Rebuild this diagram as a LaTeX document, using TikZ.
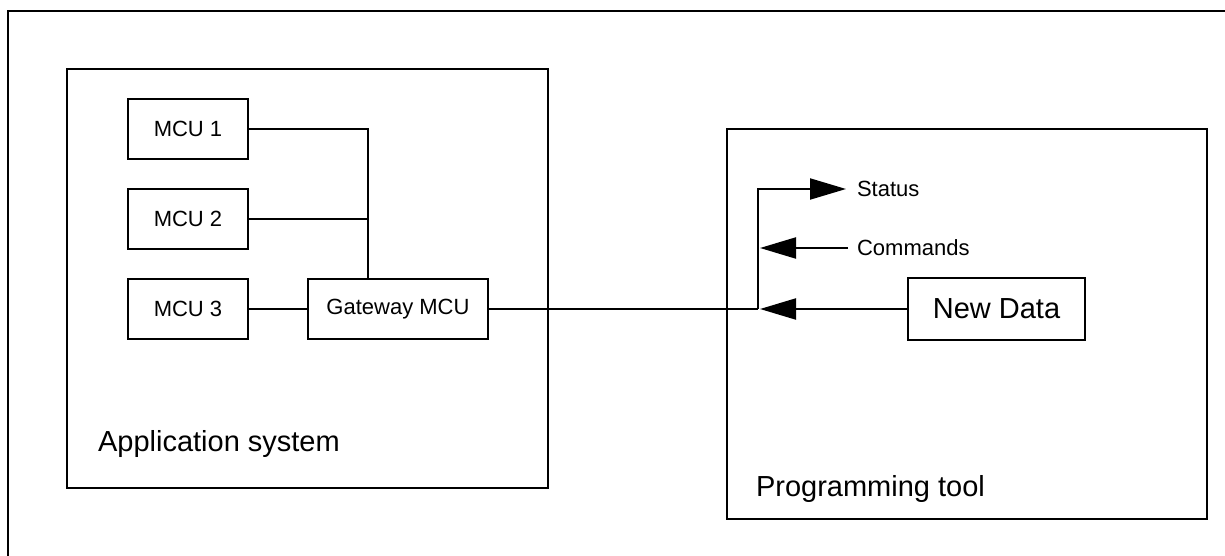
\documentclass[tikz,border=0pt]{standalone}
\usepackage{fontspec}
\setmainfont{Liberation Sans}
\usetikzlibrary{arrows.meta}

\begin{document}
\begin{tikzpicture}[
                x=1pt,y=-1pt,
                line width=2.1pt,
                box/.style={draw,line width=2.7pt,align=center,text=black,inner sep=0pt},
                small/.style={font=\fontsize{22}{26}\selectfont},
                big/.style={font=\fontsize{29}{34}\selectfont},
                tip/.style={-{Triangle[length=36pt,width=21pt]}}] %

                    \useasboundingbox (0,0) rectangle (1225,556);

                    % frame
                    \draw[line width=2.7pt] (8,556) -- (8,11) -- (1225,11);

                    % 1
                    \node[box,minimum width=481pt,minimum height=419pt] (AppSystem) at (307.5,278.5) {}; % 1
                    \node[big,anchor=west,inner sep=0pt] (AppLabel) at (97,444) {Application system};

                    \node[box,small,minimum width=120pt,minimum height=60pt] (McuA) at (188,129) {MCU 1}; % 1
                    \node[box,small,minimum width=120pt,minimum height=60pt] (McuB) at (188,219) {MCU 2}; % 2
                    \node[box,small,minimum width=120pt,minimum height=60pt] (McuC) at (188,309) {MCU 3}; % 3
                    \node[box,small,minimum width=180pt,minimum height=60pt] (Gateway) at (398,309) {Gateway MCU}; % 4

                    \coordinate (BusTop) at (368,129);

                    \draw (McuA.east) -- (BusTop) -- (BusTop |- Gateway.north);
                    \draw (McuB.east) -- (BusTop |- McuB.east);
                    \draw (McuC.east) -- (Gateway.west);


                    % 2
                    \node[box,minimum width=480pt,minimum height=390pt] (ProgTool) at (967,324) {}; % 1
                    \node[big,anchor=west,inner sep=0pt] (ProgLabel) at (755,489) {Programming tool};

                    \node[box,big,minimum width=177pt,minimum height=62pt] (NewData) at (996.5,309) {New Data}; % 2
                    \node[small,anchor=west,inner sep=0pt,inner xsep=10pt] (Status) at (846,189) {Status}; % 3
                    \node[small,anchor=west,inner sep=0pt,inner xsep=8pt] (Commands) at (848,248) {Commands}; % 4

                    \coordinate (Junction) at (758,309);

                    \draw (Gateway.east) -- (Junction);
                    \draw[tip] (Junction) -- (Junction |- Status.west) -- (Status.west);
                    \draw[tip] (Commands.west) -- ([xshift=2pt]Junction |- Commands.west);
                    \draw[tip] (NewData.west) -- ([xshift=2pt]Junction);

\end{tikzpicture}
\end{document}
